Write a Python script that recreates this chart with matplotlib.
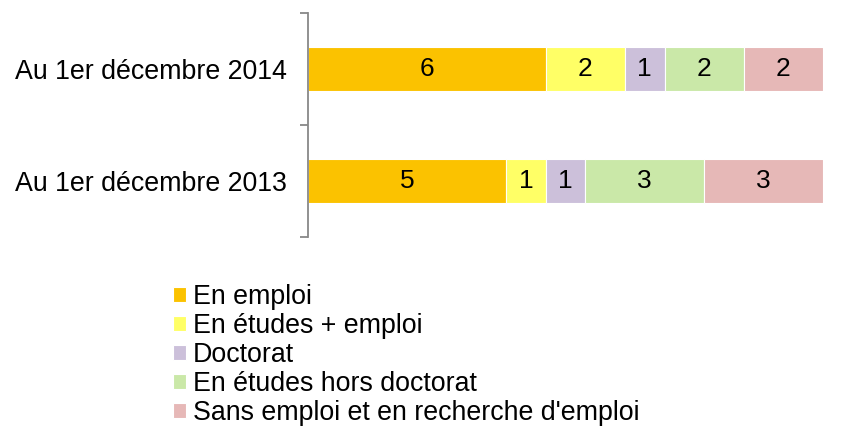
import matplotlib.pyplot as plt
import numpy as np

plt.rcParams['font.family'] = ['Liberation Sans', 'DejaVu Sans']

categories = ['Au 1er décembre 2013', 'Au 1er décembre 2014']
series = ['En emploi', 'En études + emploi', 'Doctorat',
          'En études hors doctorat', "Sans emploi et en recherche d'emploi"]
values = {
    'En emploi': [5, 6],
    'En études + emploi': [1, 2],
    'Doctorat': [1, 1],
    'En études hors doctorat': [3, 2],
    "Sans emploi et en recherche d'emploi": [3, 2],
}
colors = ['#FBC200', '#FFFF66', '#CCC0DA', '#CAE8A8', '#E6B8B7']

fig = plt.figure(figsize=(8.41, 4.29), dpi=100)
ax = fig.add_axes([308 / 841, 1 - 237 / 429, 515 / 841, 224 / 429])

y = np.arange(len(categories))
left = np.zeros(len(categories))
for name, col in zip(series, colors):
    v = np.array(values[name])
    bars = ax.barh(y, v, left=left, height=0.4, color=col, edgecolor='white',
                   linewidth=0.8, label=name)
    ax.bar_label(bars, labels=[str(x) for x in v], label_type='center',
                 fontsize=19, color='black')
    left += v

ax.set_xlim(0, 13)
ax.set_ylim(-0.5, 1.5)
ax.set_xticks([])
ax.set_yticks(y)
ax.set_yticklabels(categories, fontsize=19.3)
ax.set_yticks([-0.5, 0.5, 1.5], minor=True)
ax.tick_params(axis='y', which='major', length=0, pad=15)
ax.tick_params(axis='y', which='minor', length=6, width=1.3, color='#888888')
for s in ['top', 'right', 'bottom']:
    ax.spines[s].set_visible(False)
ax.spines['left'].set_color('#888888')
ax.spines['left'].set_linewidth(1.3)

fig.legend(loc='upper left', bbox_to_anchor=(173 / 841, 1 - 284 / 429),
           frameon=False, fontsize=19.3, borderpad=0, borderaxespad=0,
           labelspacing=0.11, handlelength=0.5, handleheight=0.5,
           handletextpad=0.23)

fig.savefig('out.png', dpi=100)
